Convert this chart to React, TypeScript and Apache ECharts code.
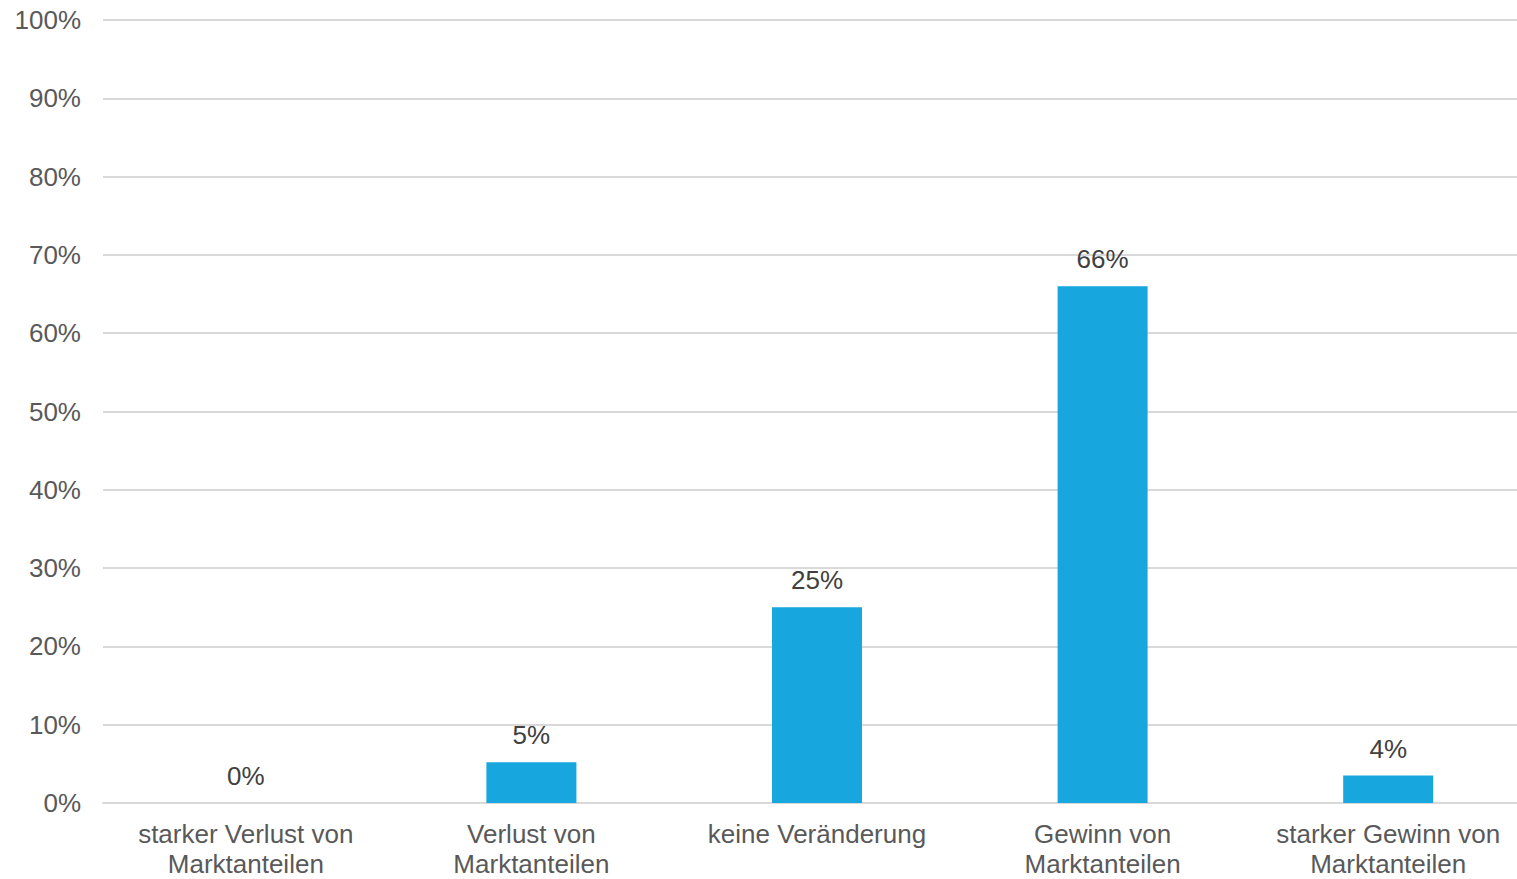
import React, { useEffect, useRef } from "react";
import * as echarts from "echarts";

const categories = [
  "starker Verlust von\nMarktanteilen",
  "Verlust von\nMarktanteilen",
  "keine Veränderung",
  "Gewinn von\nMarktanteilen",
  "starker Gewinn von\nMarktanteilen",
];
const values = [0, 5.2, 25, 66, 3.5];
const yTicks = { min: 0, max: 100, interval: 10 };

export default function App() {
  const ref = useRef<HTMLDivElement>(null);
  useEffect(() => {
    document.body.style.margin = "0";
    document.body.style.overflow = "hidden";
    if (!ref.current) return;
    const chart = echarts.init(ref.current, null, { renderer: "svg" });
    const font = "'Liberation Sans', Arial, sans-serif";
    chart.setOption({
      animation: false,
      grid: { left: 103, right: 0, top: 20, bottom: 75, containLabel: false },
      xAxis: {
        type: "category",
        data: categories,
        axisLine: { lineStyle: { color: "#d9d9d9", width: 2 } },
        axisTick: { show: false },
        axisLabel: {
          color: "#595959",
          fontSize: 26,
          fontFamily: font,
          lineHeight: 30,
          margin: 16,
          interval: 0,
        },
      },
      yAxis: {
        type: "value",
        min: yTicks.min,
        max: yTicks.max,
        interval: yTicks.interval,
        axisLine: { show: false },
        axisTick: { show: false },
        splitLine: { lineStyle: { color: "#d9d9d9", width: 2 } },
        axisLabel: {
          color: "#595959",
          fontSize: 26,
          fontFamily: font,
          margin: 22,
          formatter: (v: number) => v + "%",
        },
      },
      series: [
        {
          type: "bar",
          data: values,
          barWidth: 90,
          itemStyle: { color: "#17a6dd" },
          label: {
            show: true,
            position: "top",
            distance: 14,
            color: "#404040",
            fontSize: 26,
            fontFamily: font,
            formatter: (p: any) => Math.round(p.value) + "%",
          },
        },
      ],
    });
    return () => chart.dispose();
  }, []);
  return (
    <div style={{ width: 1517, height: 879, overflow: "hidden" }}>
      <div ref={ref} style={{ width: 1531, height: 879 }} />
    </div>
  );
}
